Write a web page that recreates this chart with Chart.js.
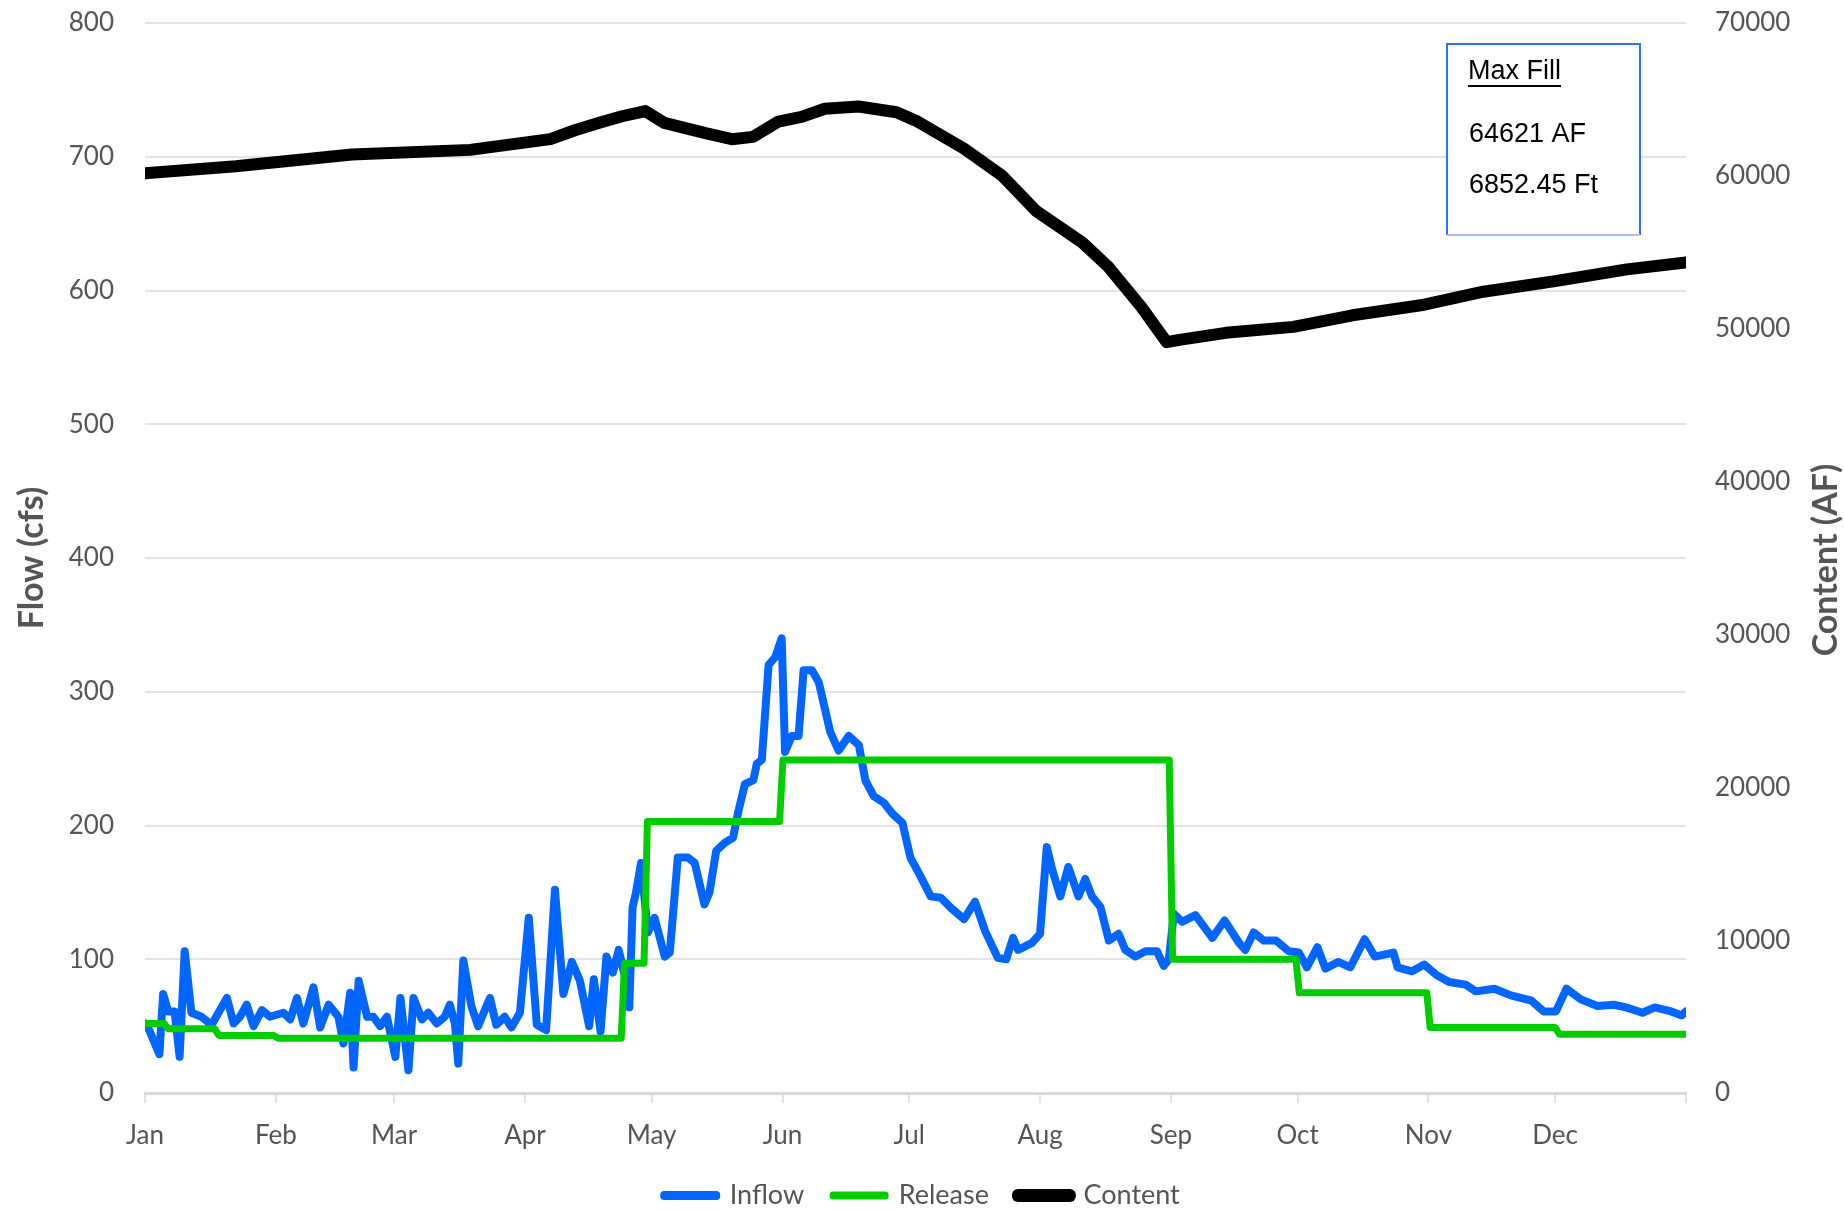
<!DOCTYPE html>
<html>
<head>
<meta charset="utf-8">
<script src="https://cdn.jsdelivr.net/npm/chart.js@4.4.1/dist/chart.umd.min.js"></script>
<style>
  html, body { margin: 0; padding: 0; background: #fff; }
  canvas { display: block; }
</style>
</head>
<body>
<canvas id="myChart" width="1844" height="1211"></canvas>
<script>
// month ticks (day of year)
const monthLabels = ['Jan', 'Feb', 'Mar', 'Apr', 'May', 'Jun', 'Jul', 'Aug', 'Sep', 'Oct', 'Nov', 'Dec', '']
const tickDays = [0, 31, 59, 90, 120, 151, 181, 212, 243, 273, 304, 334, 365]

// Inflow (cfs)
const inflowDays = [0, 1, 3.4, 4.3, 5.5, 7, 8.2, 9.4, 11, 13.4, 15.8, 17.4, 19.4, 21, 22.5, 24.1, 25.7, 27.7, 29.6, 32.8,
  34.4, 36, 37.5, 39.9, 41.5, 43.5, 45.8, 47, 48.6, 49.4, 50.6, 52.6, 54.1, 55.7, 57.3, 59.3, 60.5, 62.4, 63.6, 65.6,
  67.1, 69.1, 71, 72.2, 73.4, 74.2, 75.4, 77.3, 78.9, 81.7, 83.2, 85.2, 86.8, 88.8, 90.9, 92.8, 95, 97.1, 99.1, 101.1,
  103, 105.2, 106.3, 107.9, 109.3, 110.8, 112.2, 113.6, 114.7, 115.5, 116.3, 117.5, 119.1, 120.7, 123.1, 124.3, 126.2, 128.6, 130.2, 132.5,
  133.7, 135.3, 137.3, 139.3, 140.5, 142.1, 144.1, 144.9, 146.1, 147.7, 149.3, 150.8, 151.6, 153.2, 154.8, 156, 158, 159.6, 162.3, 164.3,
  166.7, 169.1, 170.6, 172.6, 175, 177, 179.4, 181.3, 183.7, 186.1, 188.5, 191, 194, 196.6, 199, 202, 204, 205.6, 206.8, 210,
  212, 213.6, 214.8, 216.8, 218.7, 221.1, 222.7, 224.3, 226.3, 228.3, 230.6, 232.2, 234.6, 237, 239.7, 241.3, 242.5, 243.7, 245.7, 248.8,
  250.2, 252.8, 255.7, 259.2, 260.6, 262.6, 265, 267.9, 270.9, 273.3, 275.2, 277.7, 279.6, 282.6, 285.5, 288.9, 291.3, 295.7, 296.7, 300.1,
  303, 306, 308.9, 312.8, 315.2, 319.6, 323.5, 328.4, 331.3, 334.2, 336.7, 340.1, 344, 347.9, 350.8, 354.7, 357.6, 361.5, 364, 365]
const inflowCfs = [52, 47, 29, 74, 61, 61, 27, 106, 60, 57, 51, 60, 71, 52, 57, 66, 50, 62, 57, 60,
  55, 71, 52, 79, 49, 66, 57, 37, 75, 19, 84, 57, 57, 50, 57, 27, 71, 17, 71, 55,
  60, 52, 57, 66, 52, 22, 99, 65, 50, 71, 51, 57, 49, 60, 131, 51, 47, 152, 74, 98,
  84, 50, 85, 46, 102, 90, 107, 88, 64, 139, 150, 172, 120, 131, 102, 105, 176, 176, 172, 141,
  150, 181, 187, 191, 210, 231, 234, 246, 249, 320, 326, 340, 255, 267, 267, 316, 316, 307, 270, 256,
  267, 260, 234, 222, 217, 209, 202, 176, 162, 147, 146, 138, 130, 143, 121, 101, 100, 116, 107, 112,
  119, 184, 168, 147, 169, 147, 160, 147, 139, 114, 119, 107, 102, 106, 106, 95, 100, 134, 128, 133,
  127, 116, 129, 112, 107, 120, 114, 114, 106, 105, 94, 109, 93, 98, 94, 115, 102, 105, 94, 91,
  96, 88, 83, 81, 76, 78, 73, 69, 61, 61, 78, 70, 65, 66, 64, 60, 64, 61, 58, 61]

// Release (cfs), stepped schedule
const releaseDays = [0, 4.5, 5.5, 16.5, 17.5, 30.5, 31.5, 112.8, 113.6, 118.2, 119, 150.3, 151.1, 242.6, 243.4, 272.6, 273.4, 303.6, 304.4, 334, 335, 365]
const releaseCfs = [52, 52, 48, 48, 43, 43, 41, 41, 97, 97, 203, 203, 249, 249, 100, 100, 75, 75, 49, 49, 44, 44]

// Content (AF)
const contentDays = [0, 21.5, 49, 77, 96, 102, 108, 113, 118.5, 123, 133, 139, 144, 150, 155.5, 161, 169, 178, 183, 194,
  203, 211, 222, 228, 236, 242, 245, 256, 272, 286, 303, 317, 334, 351, 365]
const contentAF = [60170, 60630, 61400, 61700, 62400, 63000, 63500, 63900, 64240, 63470, 62780, 62400, 62550, 63550, 63860, 64390, 64540, 64160, 63550, 61780,
  60020, 57720, 55640, 54100, 51420, 49120, 49270, 49730, 50120, 50880, 51570, 52420, 53110, 53880, 54340]

const maxFillLines = ['Max Fill', '64621 AF', '6852.45 Ft']

const pts = (xs, ys) => xs.map((x, i) => ({ x: x, y: ys[i] }))

const GREY = '#555555'
const tickFont = { family: 'Lato', size: 26 }

// right axis title reads bottom-to-top, plus the Max Fill box
const extras = {
  id: 'extras',
  afterDraw(chart) {
    const ctx = chart.ctx
    ctx.save()
    ctx.translate(1826, 560)
    ctx.rotate(-Math.PI / 2)
    ctx.font = 'bold 34px Lato'
    ctx.fillStyle = GREY
    ctx.textAlign = 'center'
    ctx.textBaseline = 'middle'
    ctx.fillText('Content (AF)', 0, 0)
    ctx.restore()

    ctx.save()
    ctx.fillStyle = '#fff'
    ctx.fillRect(1447, 44, 193, 191)
    ctx.lineWidth = 2
    ctx.strokeStyle = '#2f72ff'
    ctx.beginPath()
    ctx.moveTo(1447, 235); ctx.lineTo(1447, 44); ctx.lineTo(1640, 44); ctx.lineTo(1640, 235)
    ctx.stroke()
    ctx.strokeStyle = '#a9bbfb'
    ctx.beginPath()
    ctx.moveTo(1447, 235); ctx.lineTo(1640, 235)
    ctx.stroke()
    ctx.font = '27px "Liberation Sans"'
    ctx.fillStyle = '#000'
    ctx.textBaseline = 'middle'
    ctx.fillText(maxFillLines[0], 1468, 72)
    const w = ctx.measureText(maxFillLines[0]).width
    ctx.fillRect(1468, 85, w, 2)
    ctx.fillText(maxFillLines[1], 1469, 135)
    ctx.fillText(maxFillLines[2], 1469, 186)
    ctx.restore()
  }
}

const ctx = document.getElementById('myChart').getContext('2d')
const chart = new Chart(ctx, {
  type: 'line',
  data: {
    datasets: [{
      label: 'Inflow',
      data: pts(inflowDays, inflowCfs),
      borderColor: '#0066ff',
      backgroundColor: '#0066ff',
      borderWidth: 8,
      yAxisID: 'y',
      order: 1
    }, {
      label: 'Release',
      data: pts(releaseDays, releaseCfs),
      borderColor: '#00cc00',
      backgroundColor: '#00cc00',
      borderWidth: 7,
      yAxisID: 'y',
      order: 0
    }, {
      label: 'Content',
      data: pts(contentDays, contentAF),
      borderColor: '#000000',
      backgroundColor: '#000000',
      borderWidth: 12,
      yAxisID: 'y1',
      order: 2
    }]
  },
  options: {
    responsive: false,
    animation: false,
    devicePixelRatio: 1,
    layout: { padding: { top: 23, left: 0, right: 0, bottom: -8 } },
    elements: {
      point: { radius: 0 },
      line: { tension: 0, borderJoinStyle: 'round', borderCapStyle: 'round' }
    },
    plugins: {
      tooltip: { enabled: false },
      legend: {
        position: 'bottom',
        labels: {
          font: { family: 'Lato', size: 27 },
          color: GREY,
          boxWidth: 52,
          boxHeight: 1,
          padding: 29,
          sort: (a, b) => a.datasetIndex - b.datasetIndex
        }
      }
    },
    scales: {
      x: {
        type: 'linear',
        min: 0,
        max: 365,
        afterBuildTicks: (axis) => { axis.ticks = tickDays.map(v => ({ value: v })) },
        afterFit: (scale) => { scale.height = 60 },
        ticks: {
          autoSkip: false,
          maxRotation: 0,
          padding: 17,
          color: GREY,
          font: tickFont,
          callback: (v, i) => monthLabels[i]
        },
        grid: { drawOnChartArea: false, drawTicks: true, tickLength: 10, color: '#e3e3e3', lineWidth: 2 },
        border: { display: true, color: '#d9d9d9', width: 3 }
      },
      y: {
        position: 'left',
        min: 0,
        max: 800,
        afterFit: (scale) => { scale.width = 145 },
        ticks: { stepSize: 100, padding: 0, color: GREY, font: tickFont },
        grid: { color: '#e3e3e3', lineWidth: 2, drawTicks: true, tickLength: 31, tickColor: 'rgba(0,0,0,0)' },
        border: { display: false },
        title: {
          display: true,
          text: 'Flow (cfs)',
          color: GREY,
          font: { family: 'Lato', size: 34, weight: 'bold', lineHeight: 1 },
          padding: { top: 15, bottom: 0 }
        }
      },
      y1: {
        position: 'right',
        min: 0,
        max: 70000,
        afterFit: (scale) => { scale.width = 158 },
        ticks: { stepSize: 10000, padding: 0, color: GREY, font: tickFont, callback: (v) => String(v) },
        grid: { display: true, drawOnChartArea: false, drawTicks: true, tickLength: 29, tickColor: 'rgba(0,0,0,0)' },
        border: { display: false }
      }
    }
  },
  plugins: [extras]
})
</script>
</body>
</html>
